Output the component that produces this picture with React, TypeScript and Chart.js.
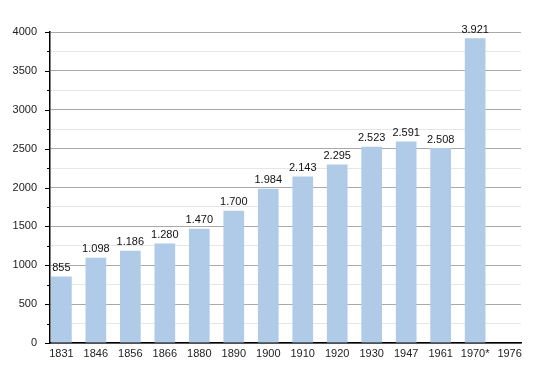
import React, { useEffect, useRef } from "react";
import { Chart, registerables } from "chart.js";

Chart.register(...registerables);

const years = ["1831", "1846", "1856", "1866", "1880", "1890", "1900", "1910", "1920", "1930", "1947", "1961", "1970*", "1976"];
const population: (number | null)[] = [855, 1098, 1186, 1280, 1470, 1700, 1984, 2143, 2295, 2523, 2591, 2508, 3921, null];
const yMax = 4000;
const yStep = 250;
const yLabelStep = 500;

const FONT = "'Liberation Sans', Arial, sans-serif";

function fmt(v: number): string {
  return String(v).replace(/\B(?=(\d{3})+(?!\d))/g, ".");
}

const valueLabels = {
  id: "valueLabels",
  afterDatasetsDraw(chart: any) {
    const ctx = chart.ctx;
    const meta = chart.getDatasetMeta(0);
    ctx.save();
    ctx.font = `11px ${FONT}`;
    ctx.fillStyle = "#111";
    ctx.textAlign = "center";
    ctx.textBaseline = "bottom";
    meta.data.forEach((bar: any, i: number) => {
      const v = population[i];
      if (v == null) return;
      ctx.fillText(fmt(v), bar.x, bar.y - 3);
    });
    ctx.restore();
  },
};

const yTicks = {
  id: "yTicks",
  afterDraw(chart: any) {
    const ctx = chart.ctx;
    const ys = chart.scales.y;
    const left = chart.chartArea.left;
    ctx.save();
    ctx.strokeStyle = "#000";
    ctx.lineWidth = 1;
    ys.ticks.forEach((t: any) => {
      const py = Math.round(ys.getPixelForValue(t.value)) + 0.5;
      const len = t.value % yLabelStep === 0 ? 5 : 3;
      ctx.beginPath();
      ctx.moveTo(left - len, py);
      ctx.lineTo(left, py);
      ctx.stroke();
    });
    ctx.restore();
  },
};

export default function App() {
  const ref = useRef<HTMLCanvasElement>(null);
  useEffect(() => {
    if (!ref.current) return;
    const chart = new Chart(ref.current, {
      type: "bar",
      data: {
        datasets: [
          {
            data: population.map((v, i) => ({ x: i, y: v })) as any,
            backgroundColor: "#afcbe7",
            borderWidth: 0,
            barPercentage: 0.6,
            categoryPercentage: 1,
          },
        ],
      },
      options: {
        animation: false,
        responsive: false,
        layout: { padding: { left: 0, top: 32, right: 29, bottom: 0 } },
        plugins: { legend: { display: false }, tooltip: { enabled: false } },
        scales: {
          x: {
            type: "linear",
            offset: false,
            min: -0.33,
            max: years.length - 1 + 0.33,
            afterFit: (s: any) => {
              s.height = 30;
            },
            grid: { display: false, drawTicks: false },
            border: { display: true, color: "#000", width: 1.5 },
            ticks: {
              stepSize: 1,
              includeBounds: false,
              autoSkip: false,
              maxRotation: 0,
              padding: 4,
              color: "#222",
              font: { family: FONT, size: 11 },
              callback: (v: any) => years[v as number] ?? "",
            },
          },
          y: {
            min: 0,
            max: yMax,
            afterFit: (s: any) => {
              s.width = 50;
            },
            grid: {
              drawTicks: false,
              color: (c: any) => (c.tick && c.tick.value % yLabelStep === 0 ? "#a9a9a9" : "#e6e6e6"),
              lineWidth: 1,
            },
            border: { display: true, color: "#000", width: 1.5 },
            ticks: {
              stepSize: yStep,
              autoSkip: false,
              padding: 13,
              color: "#222",
              font: { family: FONT, size: 11 },
              callback: (v: any) => ((v as number) % yLabelStep === 0 ? String(v) : ""),
            },
          },
        },
      },
      plugins: [valueLabels, yTicks],
    });
    return () => chart.destroy();
  }, []);
  return (
    <div style={{ position: "fixed", left: 0, top: 0, width: 550, height: 373, background: "#fff" }}>
      <canvas ref={ref} width={550} height={373} style={{ width: 550, height: 373, display: "block" }} />
    </div>
  );
}
